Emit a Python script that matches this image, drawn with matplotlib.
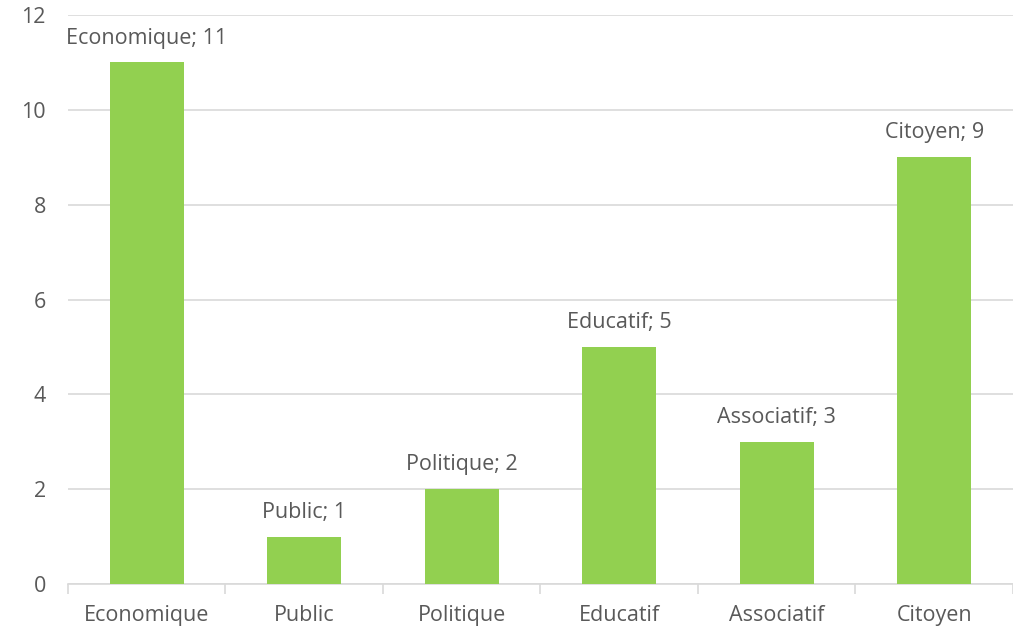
import matplotlib
matplotlib.use("Agg")
import matplotlib.pyplot as plt
import numpy as np

categories = ["Economique", "Public", "Politique", "Educatif", "Associatif", "Citoyen"]
values = [11, 1, 2, 5, 3, 9]
yticks = [0, 2, 4, 6, 8, 10, 12]

bar_color = "#92D050"
text_color = "#595959"
grid_color = "#D9D9D9"

plt.rcParams['font.family'] = ['Open Sans', 'DejaVu Sans']
fs = 15.5

fig = plt.figure(figsize=(10.13, 6.31), dpi=100)
ax = fig.add_axes([0.0671, 0.0745, 0.9329, 0.9017])

x = np.arange(len(categories))
ax.bar(x, values, width=0.47, color=bar_color, zorder=3)
ax.set_xlim(-0.5, len(categories) - 0.5)
ax.set_ylim(0, 12)
ax.set_yticks(yticks)
ax.set_yticklabels([str(t) for t in yticks], fontsize=fs, color=text_color)
ax.yaxis.grid(True, color=grid_color, linewidth=1.2, zorder=0)
ax.tick_params(axis='y', length=0, pad=16)

ax.set_xticks(x)
ax.set_xticklabels(categories, fontsize=fs, color=text_color)
ax.tick_params(axis='x', which='major', length=0, pad=15)
ax.set_xticks(np.arange(-0.5, len(categories) + 0.5, 1), minor=True)
ax.tick_params(axis='x', which='minor', length=7, color=grid_color, width=1.2)

for s in ['top', 'right', 'left']:
    ax.spines[s].set_visible(False)
ax.spines['bottom'].set_color(grid_color)
ax.spines['bottom'].set_linewidth(1.2)

for xi, cat, v in zip(x, categories, values):
    ax.annotate(f"{cat}; {v}", (xi, v), xytext=(0, 10), textcoords='offset points',
                ha='center', va='bottom', fontsize=fs, color=text_color)

fig.savefig("out.png", dpi=100)
